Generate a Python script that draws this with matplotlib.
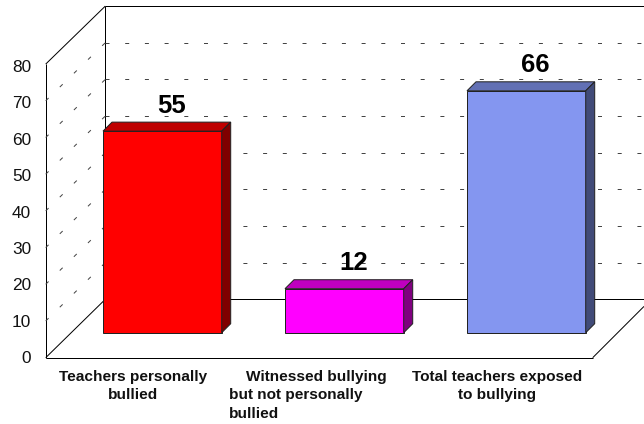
import matplotlib
matplotlib.use("Agg")
import matplotlib.pyplot as plt
from matplotlib.patches import Polygon
from matplotlib.transforms import Affine2D

plt.rcParams['font.family'] = ['Liberation Sans', 'DejaVu Sans']
plt.rcParams['lines.scale_dashes'] = False

categories = ["Teachers personally\nbullied",
              "    Witnessed bullying\nbut not personally\nbullied",
              "Total teachers exposed\nto bullying"]
values = [55, 12, 66]
front_colors = ['#FF0000', '#FF00FF', '#8496F0']
top_colors = ['#BF0000', '#BF00BF', '#6270B4']
side_colors = ['#7F0000', '#7F007F', '#414B78']
y_ticks = [0, 10, 20, 30, 40, 50, 60, 70, 80]

W, H = 644, 424
fig = plt.figure(figsize=(W / 100, H / 100), dpi=100, facecolor='white')
PX = 1 / W, 1 / H
pt = 0.72  # one pixel in points

# Main axes: x is category index, y is value (front plane of the bars)
ax = fig.add_axes([0, 0, 1, 1])
unit_x, unit_y = 182.0, 3.665
x0_px, y0_px = 162.35, 332.7
ax.set_xlim(-x0_px / unit_x, (W - x0_px) / unit_x)
ax.set_ylim((y0_px - H) / unit_y, y0_px / unit_y)
ax.axis('off')

# Wall frame drawn in pixel coordinates (origin at top-left)
pix = Affine2D().scale(1, -1).translate(0, H)
L, F = 45.7, 357.7        # left edge, front floor level
BX, BY = 105.3, 299.3     # back-left floor corner
FR = 592.7                # front-right floor corner
Pxv = 3.665               # pixels per unit value
frame = dict(color='black', lw=1 * pt, transform=pix, zorder=1, solid_capstyle='butt')
ax.plot([L, L], [F - 80 * 3.67, F], **frame)
ax.plot([L, FR], [F, F], **frame)
ax.plot([FR, W], [F, F - (W - FR)], **frame)
ax.plot([L, BX], [F, BY], **frame)
ax.plot([BX, BX], [BY, BY - 80 * Pxv], **frame)
ax.plot([BX, W], [BY, BY], **frame)
ax.plot([BX, W], [BY - 80 * Pxv, BY - 80 * Pxv], **frame)
ax.plot([L, BX], [F - 80 * 3.67, BY - 80 * Pxv], **frame)

dash = dict(color='#444444', lw=1 * pt, transform=pix, zorder=1,
            linestyle=(0, (4 * pt, 15.7 * pt)), dash_capstyle='butt')
for t in y_ticks[1:-1]:
    yb = BY - t * Pxv
    ax.plot([BX, W], [yb, yb], **dash)
    ax.plot([L, BX], [F - t * 3.67, yb], **dash)

# Bars
bw = 118.7 / unit_x
dx, dy = 9 / unit_x, 9 / unit_y
xs = list(range(len(values)))
ax.bar(xs, values, width=bw, color=front_colors, edgecolor='#222222', linewidth=1 * pt, zorder=3)
for x, v, tc, sc in zip(xs, values, top_colors, side_colors):
    l, r = x - bw / 2, x + bw / 2
    ax.add_patch(Polygon([(l, v), (l + dx, v + dy), (r + dx, v + dy), (r, v)],
                         facecolor=tc, edgecolor='#222222', lw=1 * pt, zorder=3))
    ax.add_patch(Polygon([(r, v), (r + dx, v + dy), (r + dx, dy), (r, 0)],
                         facecolor=sc, edgecolor='#222222', lw=1 * pt, zorder=3))
    ax.annotate(str(v), (x + dx, v + dy), xytext=(0, 16.5 * pt), textcoords='offset points',
                ha='center', va='center', fontsize=18.5, fontweight='bold', color='black', zorder=4)

# Value axis on the left (label positions run from y=357 to y=66 px)
ax2 = fig.add_axes([L * PX[0], (H - 357) * PX[1], 0.001, 291 * PX[1]])
ax2.patch.set_visible(False)
ax2.set_ylim(0, 80)
ax2.set_xticks([])
ax2.set_yticks(y_ticks)
ax2.tick_params(axis='y', length=0, pad=14.5 * pt, labelsize=12.4, labelcolor='#111111')
for s in ax2.spines.values():
    s.set_visible(False)

# Category labels
lab_kw = dict(fontsize=11.1, fontweight='bold', color='#111111', linespacing=1.45, va='top')
fig.text(133.3 * PX[0], 1 - 369.5 * PX[1], categories[0], ha='center', **lab_kw)
fig.text(229 * PX[0], 1 - 369.5 * PX[1], categories[1], ha='left', **lab_kw)
fig.text(497.3 * PX[0], 1 - 369.5 * PX[1], categories[2], ha='center', **lab_kw)

fig.savefig('out.png', dpi=100, facecolor='white')
